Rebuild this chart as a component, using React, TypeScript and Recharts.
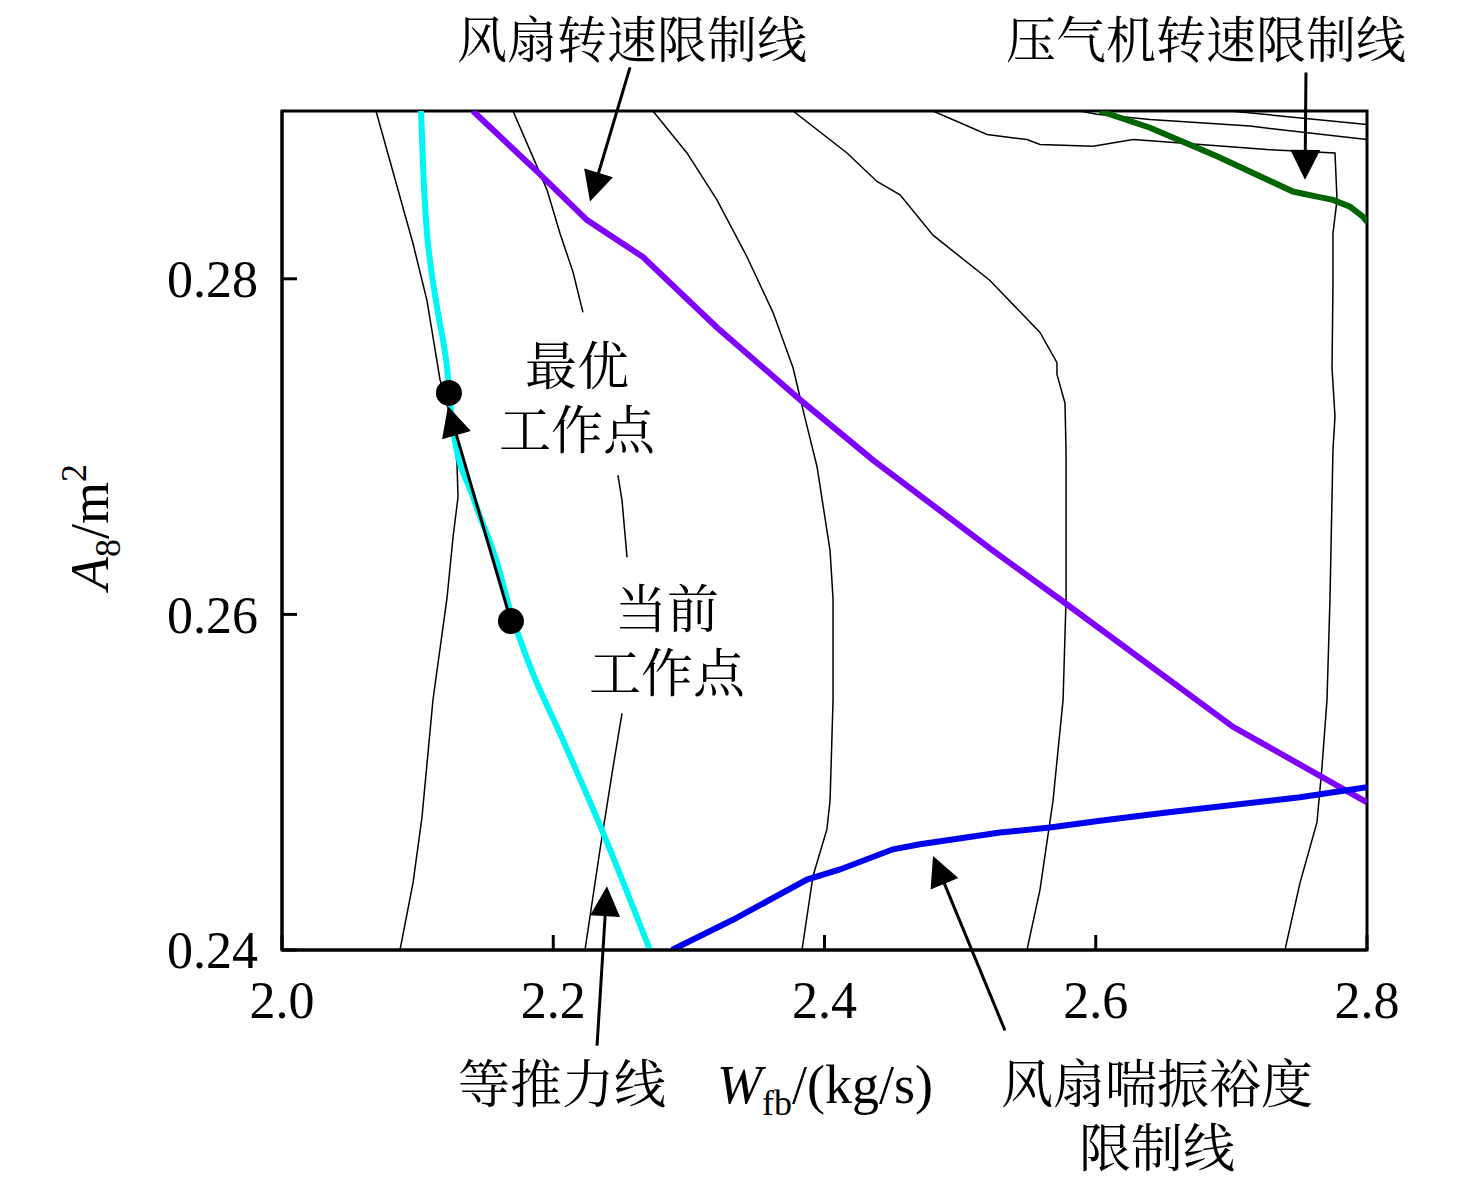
import {
  ComposedChart,
  Line,
  ReferenceArea,
  ReferenceLine,
  Scatter,
  XAxis,
  YAxis,
} from "recharts";

type Pt = { x: number; y: number | null };

const xTicks = [2.0, 2.2, 2.4, 2.6, 2.8];
const yTicks = [0.24, 0.26, 0.28];

// 等推力线 (cyan)
const thrustLine: Pt[] = [
  { x: 2.1025, y: 0.29 },
  { x: 2.104, y: 0.2867 },
  { x: 2.1069, y: 0.2827 },
  { x: 2.1091, y: 0.2811 },
  { x: 2.1143, y: 0.2783 },
  { x: 2.1217, y: 0.2747 },
  { x: 2.1261, y: 0.271 },
  { x: 2.1408, y: 0.267 },
  { x: 2.1585, y: 0.2631 },
  { x: 2.1681, y: 0.2603 },
  { x: 2.1829, y: 0.2569 },
  { x: 2.205, y: 0.2529 },
  { x: 2.2367, y: 0.247 },
  { x: 2.2713, y: 0.24 },
];

// 风扇转速限制线 (purple)
const fanSpeedLimit: Pt[] = [
  { x: 2.1408, y: 0.29 },
  { x: 2.188, y: 0.2864 },
  { x: 2.2249, y: 0.2835 },
  { x: 2.2662, y: 0.2813 },
  { x: 2.3207, y: 0.2771 },
  { x: 2.3819, y: 0.2728 },
  { x: 2.4358, y: 0.2692 },
  { x: 2.5242, y: 0.2638 },
  { x: 2.5736, y: 0.2609 },
  { x: 2.7012, y: 0.2533 },
  { x: 2.8, y: 0.2488 },
];

// 风扇喘振裕度限制线 (blue)
const fanSurgeLimit: Pt[] = [
  { x: 2.2875, y: 0.24 },
  { x: 2.3325, y: 0.2418 },
  { x: 2.3871, y: 0.2442 },
  { x: 2.4114, y: 0.2448 },
  { x: 2.4505, y: 0.246 },
  { x: 2.4704, y: 0.2463 },
  { x: 2.5294, y: 0.247 },
  { x: 2.5662, y: 0.2473 },
  { x: 2.6031, y: 0.2477 },
  { x: 2.6523, y: 0.2482 },
  { x: 2.7506, y: 0.2491 },
  { x: 2.8, y: 0.2497 },
];

// 压气机转速限制线 (green)
const compSpeedLimit: Pt[] = [
  { x: 2.6031, y: 0.29 },
  { x: 2.64, y: 0.289 },
  { x: 2.6894, y: 0.2873 },
  { x: 2.7454, y: 0.2852 },
  { x: 2.7631, y: 0.2849 },
  { x: 2.7749, y: 0.2847 },
  { x: 2.7875, y: 0.2843 },
  { x: 2.797, y: 0.2837 },
  { x: 2.8, y: 0.2834 },
];

// thin black contour lines
const contour1: Pt[] = [
  { x: 2.0693, y: 0.29 },
  { x: 2.0966, y: 0.2821 },
  { x: 2.1069, y: 0.2787 },
  { x: 2.1165, y: 0.274 },
  { x: 2.1261, y: 0.2712 },
  { x: 2.129, y: 0.269 },
  { x: 2.1298, y: 0.267 },
  { x: 2.1261, y: 0.2646 },
  { x: 2.1217, y: 0.261 },
  { x: 2.1113, y: 0.2549 },
  { x: 2.1032, y: 0.2479 },
  { x: 2.0966, y: 0.244 },
  { x: 2.087, y: 0.24 },
];

const contour2: Pt[] = [
  { x: 2.1703, y: 0.29 },
  { x: 2.188, y: 0.2867 },
  { x: 2.1954, y: 0.2853 },
  { x: 2.205, y: 0.2827 },
  { x: 2.2146, y: 0.2804 },
  { x: 2.2219, y: 0.278 },
  { x: 2.235, y: null },
  { x: 2.2477, y: 0.2683 },
  { x: 2.2507, y: 0.2668 },
  { x: 2.2544, y: 0.2634 },
  { x: 2.252, y: null },
  { x: 2.2507, y: 0.2541 },
  { x: 2.2441, y: 0.2509 },
  { x: 2.2345, y: 0.246 },
  { x: 2.2234, y: 0.24 },
];

const contour3: Pt[] = [
  { x: 2.2735, y: 0.29 },
  { x: 2.2986, y: 0.2875 },
  { x: 2.3207, y: 0.2847 },
  { x: 2.3429, y: 0.2813 },
  { x: 2.362, y: 0.278 },
  { x: 2.3768, y: 0.2747 },
  { x: 2.3841, y: 0.2722 },
  { x: 2.3945, y: 0.2688 },
  { x: 2.4041, y: 0.2638 },
  { x: 2.4063, y: 0.2609 },
  { x: 2.4063, y: 0.2549 },
  { x: 2.4041, y: 0.2489 },
  { x: 2.4018, y: 0.2472 },
  { x: 2.3915, y: 0.2444 },
  { x: 2.3834, y: 0.24 },
];

const contour4: Pt[] = [
  { x: 2.3768, y: 0.29 },
  { x: 2.4166, y: 0.2875 },
  { x: 2.4387, y: 0.2858 },
  { x: 2.4557, y: 0.285 },
  { x: 2.48, y: 0.2826 },
  { x: 2.522, y: 0.2799 },
  { x: 2.5589, y: 0.2768 },
  { x: 2.5714, y: 0.275 },
  { x: 2.5714, y: 0.2743 },
  { x: 2.5773, y: 0.2726 },
  { x: 2.5781, y: 0.2698 },
  { x: 2.5781, y: 0.2609 },
  { x: 2.5759, y: 0.2549 },
  { x: 2.5685, y: 0.2489 },
  { x: 2.5589, y: 0.2436 },
  { x: 2.5493, y: 0.24 },
];

const contour5: Pt[] = [
  { x: 2.48, y: 0.29 },
  { x: 2.5198, y: 0.2886 },
  { x: 2.5493, y: 0.2883 },
  { x: 2.5589, y: 0.288 },
  { x: 2.598, y: 0.2879 },
  { x: 2.6275, y: 0.2883 },
  { x: 2.6452, y: 0.2882 },
  { x: 2.7263, y: 0.2877 },
  { x: 2.7764, y: 0.2875 },
  { x: 2.7779, y: 0.2847 },
  { x: 2.7749, y: 0.2827 },
  { x: 2.7749, y: 0.2795 },
  { x: 2.7742, y: 0.2747 },
  { x: 2.7764, y: 0.2718 },
  { x: 2.7749, y: 0.2698 },
  { x: 2.7727, y: 0.2609 },
  { x: 2.7705, y: 0.2549 },
  { x: 2.7668, y: 0.2509 },
  { x: 2.7631, y: 0.2476 },
  { x: 2.7506, y: 0.244 },
  { x: 2.7395, y: 0.24 },
];

const contour6: Pt[] = [
  { x: 2.5882, y: 0.29 },
  { x: 2.6007, y: 0.2898 },
  { x: 2.64, y: 0.2895 },
  { x: 2.7137, y: 0.2891 },
  { x: 2.8, y: 0.2883 },
];

const contour7: Pt[] = [
  { x: 2.699, y: 0.29 },
  { x: 2.8, y: 0.2892 },
];

const contours = [contour1, contour2, contour3, contour4, contour5, contour6, contour7];

// 最优工作点 / 当前工作点
const workPoints = [
  { x: 2.1231, y: 0.2732 },
  { x: 2.1688, y: 0.2596 },
];

// annotation arrows: [fromX, fromY, toX, toY]
const arrows = [
  [2.1688, 0.2596, 2.1224, 0.2724],
  [2.2566, 0.2926, 2.2271, 0.2846],
  [2.755, 0.2923, 2.7543, 0.2859],
  [2.2323, 0.2343, 2.2396, 0.2438],
  [2.5331, 0.2352, 2.48, 0.2456],
];

const serif = '"Liberation Serif", "Times New Roman", serif';
const cjk = '"Noto Serif CJK SC", "Noto Sans CJK SC", sans-serif';

function ArrowShape(props: any) {
  const { x1, y1, x2, y2 } = props;
  const dx = x2 - x1;
  const dy = y2 - y1;
  const len = Math.hypot(dx, dy) || 1;
  const ux = dx / len;
  const uy = dy / len;
  const head = 30;
  const half = 15;
  const bx = x2 - ux * head;
  const by = y2 - uy * head;
  const px = -uy;
  const py = ux;
  return (
    <g>
      <line x1={x1} y1={y1} x2={bx + ux * 2} y2={by + uy * 2} stroke="#000" strokeWidth={3} />
      <polygon
        points={`${x2},${y2} ${bx + px * half},${by + py * half} ${bx - px * half},${by - py * half}`}
        fill="#000"
      />
    </g>
  );
}

function Dot(props: any) {
  return <circle cx={props.cx} cy={props.cy} r={13} fill="#000" />;
}

// [lines, centre x, centre y of first line, font size]
const cjkLabels: [string[], number, number, number][] = [
  [["风扇转速限制线"], 632, 36, 50],
  [["压气机转速限制线"], 1206, 36, 50],
  [["最优", "工作点"], 577, 362, 52],
  [["当前", "工作点"], 667, 605, 52],
  [["等推力线"], 562, 1080, 52],
  [["风扇喘振裕度", "限制线"], 1157, 1080, 52],
];

export default function App() {
  return (
    <div style={{ position: "absolute", left: 0, top: 0, width: 1476, height: 1182, background: "#fff" }}>
      <ComposedChart
        width={1476}
        height={1182}
        margin={{ top: 111, right: 109, bottom: 172, left: 182 }}
      >
        <XAxis
          type="number"
          dataKey="x"
          domain={[2.0, 2.8]}
          ticks={xTicks}
          interval={0}
          allowDataOverflow
          tickFormatter={(v) => v.toFixed(1)}
          tickSize={-15}
          tickMargin={46}
          height={60}
          axisLine={{ stroke: "#000", strokeWidth: 3 }}
          tickLine={{ stroke: "#000", strokeWidth: 3 }}
          tick={{ fontSize: 52, fill: "#000", fontFamily: serif }}
        />
        <YAxis
          type="number"
          dataKey="y"
          domain={[0.24, 0.29]}
          ticks={yTicks}
          interval={0}
          allowDataOverflow
          tickFormatter={(v) => v.toFixed(2)}
          tickSize={-15}
          tickMargin={39}
          width={100}
          axisLine={{ stroke: "#000", strokeWidth: 3 }}
          tickLine={{ stroke: "#000", strokeWidth: 3 }}
          tick={{ fontSize: 52, fill: "#000", fontFamily: serif }}
        />
        <ReferenceArea x1={2.0} x2={2.8} y1={0.24} y2={0.29} fill="none" stroke="#000" strokeWidth={3} />
        {contours.map((c, i) => (
          <Line
            key={`c${i}`}
            data={c}
            dataKey="y"
            stroke="#000"
            strokeWidth={1.5}
            dot={false}
            activeDot={false}
            type="linear"
            isAnimationActive={false}
          />
        ))}
        <Line data={thrustLine} dataKey="y" stroke="#00F5F5" strokeWidth={6} dot={false} activeDot={false} type="monotone" isAnimationActive={false} />
        <Line data={fanSpeedLimit} dataKey="y" stroke="#7F00FF" strokeWidth={6} dot={false} activeDot={false} type="linear" isAnimationActive={false} />
        <Line data={fanSurgeLimit} dataKey="y" stroke="#0000F0" strokeWidth={6} dot={false} activeDot={false} type="linear" isAnimationActive={false} />
        <Line data={compSpeedLimit} dataKey="y" stroke="#006400" strokeWidth={6} dot={false} activeDot={false} type="linear" isAnimationActive={false} />
        {arrows.map((a, i) => (
          <ReferenceLine
            key={`a${i}`}
            segment={[
              { x: a[0], y: a[1] },
              { x: a[2], y: a[3] },
            ]}
            ifOverflow="visible"
            shape={ArrowShape}
          />
        ))}
        <Scatter data={workPoints} dataKey="y" shape={Dot} isAnimationActive={false} />
      </ComposedChart>
      <svg
        width={1476}
        height={1182}
        style={{ position: "absolute", left: 0, top: 0, pointerEvents: "none" }}
      >
        {cjkLabels.map(([lines, x, y, size], i) => (
          <text
            key={i}
            x={x}
            y={y}
            textAnchor="middle"
            dominantBaseline="central"
            fontSize={size}
            fontFamily={cjk}
            fill="#000"
          >
            {lines.map((t, j) => (
              <tspan key={j} x={x} dy={j === 0 ? 0 : 64}>
                {t}
              </tspan>
            ))}
          </text>
        ))}
        <text x={825} y={1103} textAnchor="middle" fontSize={54} fontFamily={serif} fill="#000">
          <tspan fontStyle="italic">W</tspan>
          <tspan fontSize={36} dy={12}>fb</tspan>
          <tspan dy={-12}>/(kg/s)</tspan>
        </text>
        <text
          x={108}
          y={527}
          textAnchor="middle"
          fontSize={54}
          fontFamily={serif}
          fill="#000"
          transform="rotate(-90 108 527)"
        >
          <tspan fontStyle="italic">A</tspan>
          <tspan fontSize={36} dy={12}>8</tspan>
          <tspan dy={-12}>/m</tspan>
          <tspan fontSize={36} dy={-22}>2</tspan>
        </text>
      </svg>
    </div>
  );
}
